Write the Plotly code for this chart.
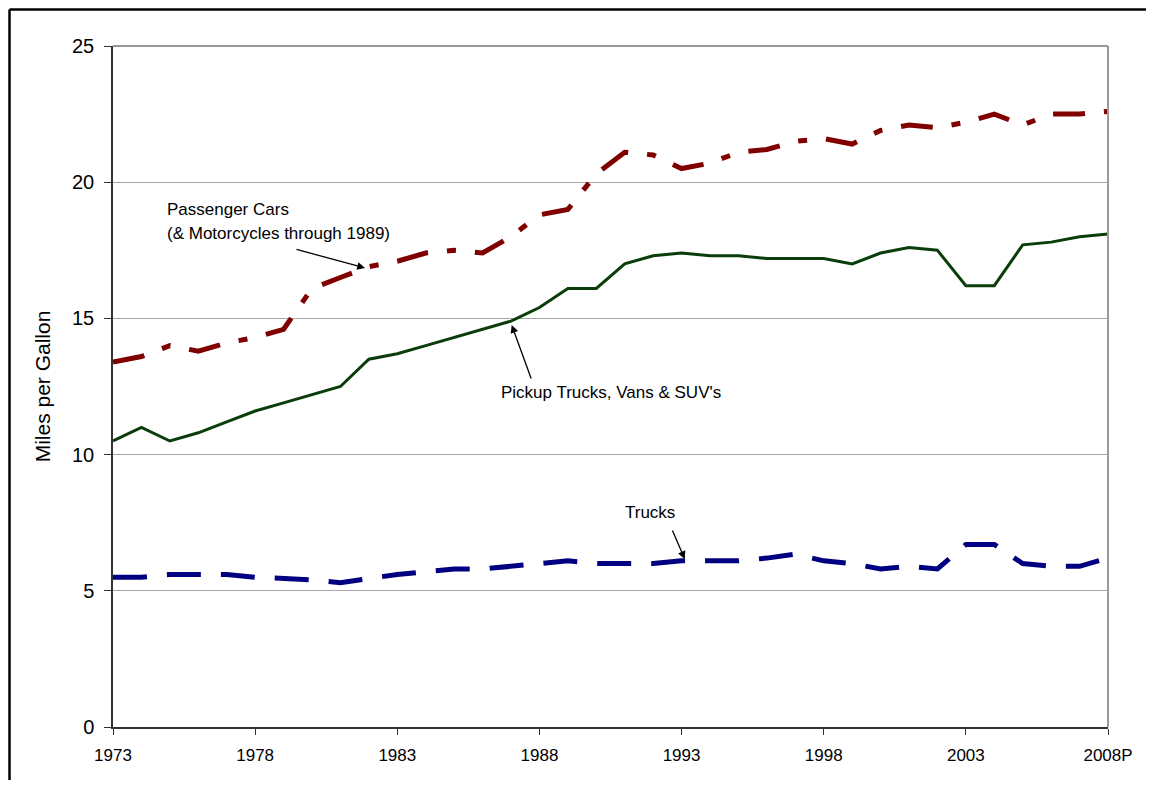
import plotly.graph_objects as go

years = list(range(1973, 2009))
tick_years = [1973, 1978, 1983, 1988, 1993, 1998, 2003, 2008]
tick_labels = ["1973", "1978", "1983", "1988", "1993", "1998", "2003", "2008P"]

passenger_cars = [13.4, 13.6, 14.0, 13.8, 14.1, 14.3, 14.6, 16.1, 16.5, 16.9,
                  17.1, 17.4, 17.5, 17.4, 18.0, 18.8, 19.0, 20.3, 21.1, 21.0,
                  20.5, 20.7, 21.1, 21.2, 21.5, 21.6, 21.4, 21.9, 22.1, 22.0,
                  22.2, 22.5, 22.1, 22.5, 22.5, 22.6]
pickups_vans_suvs = [10.5, 11.0, 10.5, 10.8, 11.2, 11.6, 11.9, 12.2, 12.5, 13.5,
                     13.7, 14.0, 14.3, 14.6, 14.9, 15.4, 16.1, 16.1, 17.0, 17.3,
                     17.4, 17.3, 17.3, 17.2, 17.2, 17.2, 17.0, 17.4, 17.6, 17.5,
                     16.2, 16.2, 17.7, 17.8, 18.0, 18.1]
trucks = [5.5, 5.5, 5.6, 5.6, 5.6, 5.5, 5.45, 5.4, 5.3, 5.45,
          5.6, 5.7, 5.8, 5.8, 5.9, 6.0, 6.1, 6.0, 6.0, 6.0,
          6.1, 6.1, 6.1, 6.2, 6.35, 6.1, 6.0, 5.8, 5.9, 5.8,
          6.7, 6.7, 6.0, 5.9, 5.9, 6.2]

# page has an 8px body margin; target plot area in page pixels: x 113..1108, y 46..727
OFF = 8
W, H = 1154 - 2 * OFF, 788 - 2 * OFF
PL, PR, PT, PB = 113, 1108, 46, 727
L, T = PL - OFF, PT - OFF
R, B = OFF + W - PR, OFF + H - PB

pw = PR - PL
ph = PB - PT

fig = go.Figure()
fig.add_trace(go.Scatter(x=years, y=trucks, mode="lines",
                         line=dict(color="#000080", width=5, dash="34px,20px"),
                         name="Trucks"))
fig.add_trace(go.Scatter(x=years, y=pickups_vans_suvs, mode="lines",
                         line=dict(color="#0a3d0a", width=3),
                         name="Pickup Trucks, Vans & SUV's"))
fig.add_trace(go.Scatter(x=years, y=passenger_cars, mode="lines",
                         line=dict(color="#800000", width=5, dash="32px,19px,9px,19px"),
                         name="Passenger Cars"))

label_font = dict(family="Liberation Sans, Arial, sans-serif", size=17, color="black")


def px_to_x(px):
    return 1973 + (px - PL) / (pw / 35.0)


def py_to_y(py):
    return (PB - py) / (ph / 25.0)


def ppx(px):
    return (px - PL) / pw


def ppy(py):
    return (PB - py) / ph


arrow_style = dict(text="", showarrow=True, arrowhead=2, arrowsize=1.2,
                   arrowwidth=1.3, arrowcolor="black", standoff=0)

annotations = [
    dict(x=px_to_x(165), y=py_to_y(209), text="Passenger Cars", showarrow=False,
         xanchor="left", yanchor="middle", font=label_font),
    dict(x=px_to_x(165), y=py_to_y(233), text="(& Motorcycles through 1989)", showarrow=False,
         xanchor="left", yanchor="middle", font=label_font),
    dict(x=px_to_x(611), y=py_to_y(392), text="Pickup Trucks, Vans & SUV's", showarrow=False,
         xanchor="center", yanchor="middle", font=label_font),
    dict(x=px_to_x(650), y=py_to_y(512), text="Trucks", showarrow=False,
         xanchor="center", yanchor="middle", font=label_font),
    dict(x=px_to_x(365), y=py_to_y(268), ax=-70, ay=-19, **arrow_style),
    dict(x=px_to_x(511.7), y=py_to_y(325), ax=20, ay=55, **arrow_style),
    dict(x=px_to_x(684.8), y=py_to_y(559), ax=-13, ay=-30, **arrow_style),
]

shapes = [
    # outer frame (top and left edges visible) - just inside the figure area
    dict(type="line", xref="paper", yref="paper",
         x0=ppx(9.5), x1=ppx(1170), y0=ppy(9.5), y1=ppy(9.5),
         line=dict(color="black", width=2.5)),
    dict(type="line", xref="paper", yref="paper",
         x0=ppx(9.5), x1=ppx(9.5), y0=ppy(9.5), y1=ppy(800),
         line=dict(color="black", width=2.5)),
    # plot-area border top and right (gray)
    dict(type="line", xref="paper", yref="paper", x0=0, x1=1, y0=1, y1=1,
         line=dict(color="#999999", width=2)),
    dict(type="line", xref="paper", yref="paper", x0=1, x1=1, y0=0, y1=1,
         line=dict(color="#999999", width=2)),
]

fig.update_layout(
    width=W, height=H,
    margin=dict(l=L, r=R, t=T, b=B, pad=0),
    paper_bgcolor="white", plot_bgcolor="white",
    showlegend=False,
    annotations=annotations,
    shapes=shapes,
    font=dict(family="Liberation Sans, Arial, sans-serif", color="black"),
)
fig.update_xaxes(
    range=[1973, 2008], tickmode="array", tickvals=tick_years, ticktext=tick_labels,
    showgrid=False, zeroline=False, showline=True, linecolor="#333333", linewidth=2,
    ticks="outside", ticklen=6, tickcolor="#333333", tickwidth=1,
    tickfont=dict(family="Liberation Sans Narrow, Arial Narrow, Liberation Sans, sans-serif", size=17),
    ticklabelstandoff=6,
)
fig.update_yaxes(
    range=[0, 25], dtick=5, tick0=0,
    showgrid=True, gridcolor="#a6a6a6", gridwidth=1, zeroline=False,
    showline=True, linecolor="#333333", linewidth=1.5,
    ticks="outside", ticklen=7, tickcolor="#333333", tickwidth=1,
    tickfont=dict(family="Liberation Sans, Arial, sans-serif", size=20),
    ticklabelstandoff=6,
    title=dict(text="Miles per Gallon", standoff=16,
               font=dict(family="Liberation Sans Narrow, Arial Narrow, Liberation Sans, sans-serif", size=21)),
)

fig.write_html("out.html")
